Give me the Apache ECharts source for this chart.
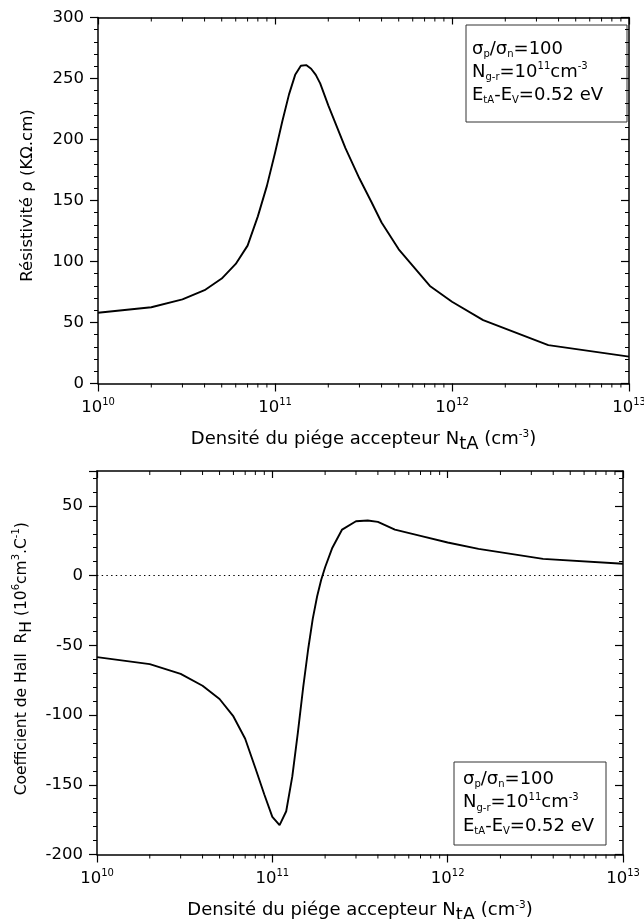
<!DOCTYPE html>
<html>
<head>
<meta charset="utf-8">
<script src="https://cdn.jsdelivr.net/npm/echarts@6/dist/echarts.min.js"></script>
<style>html,body{margin:0;padding:0;background:#fff}#c{width:644px;height:919px}</style>
</head>
<body>
<div id="c"></div>
<script>
// ---- data ----
const xTop = [1e10,2e10,3e10,4e10,5e10,6e10,7e10,8e10,9e10,1e11,1.1e11,1.2e11,1.3e11,1.4e11,1.5e11,1.6e11,1.7e11,1.8e11,2e11,2.5e11,3e11,3.5e11,4e11,5e11,7.5e11,1e12,1.5e12,3.5e12,1e13];
const yTop = [58,62.5,69,76.5,86,98,113,137,162,189,215,237,253,260.5,261,258,253,246,228,193,168,149,132,110,80,67,52,31.5,22];
const xBot = [1e10,2e10,3e10,4e10,5e10,6e10,7e10,8e10,9e10,1e11,1.1e11,1.2e11,1.3e11,1.4e11,1.5e11,1.6e11,1.7e11,1.8e11,1.9e11,2e11,2.2e11,2.5e11,3e11,3.5e11,4e11,5e11,7e11,1e12,1.5e12,3.5e12,1e13];
const yBot = [-58.5,-63.5,-70.5,-79,-88.5,-101,-117,-138,-157,-173,-179,-169,-144,-112,-80,-53,-31,-15,-3,6,20,33,39,39.5,38.5,33,28.5,23.7,19.2,12,8.5];
const minorTicks = [2e10,3e10,4e10,5e10,6e10,7e10,8e10,9e10,2e11,3e11,4e11,5e11,6e11,7e11,8e11,9e11,2e12,3e12,4e12,5e12,6e12,7e12,8e12,9e12];
const xRange = [1e10, 1e13];
const yTopRange = [0, 300, 50];
const yBotRange = [-200, 75, 50];

const FONT = 'DejaVu Sans, sans-serif';
const chart = echarts.init(document.getElementById('c'), null, {renderer: 'canvas'});

const supRich = {
  b: {fontSize: 16.5, fontFamily: FONT, color: '#000'},
  s: {fontSize: 10, fontFamily: FONT, color: '#000', padding: [0, 0, 10, 0]}
};
function logLabel(v) {
  return '{b|10}{s|' + Math.round(Math.log10(v)) + '}';
}
const axisLineStyle = {color: '#000', width: 1.5};

function xAxes(grid, nameText) {
  return [
    {
      gridIndex: grid, type: 'log', logBase: 10, min: xRange[0], max: xRange[1], position: 'bottom',
      axisLine: {onZero: false, lineStyle: axisLineStyle}, axisTick: {length: 8, lineStyle: {color: '#000', width: 1.2}},
      axisLabel: {formatter: logLabel, rich: supRich, margin: 14, color: '#000'},
      splitLine: {show: false},
      name: nameText, nameLocation: 'middle', nameGap: 42,
      nameTextStyle: {
        fontFamily: FONT, fontSize: 18, color: '#000',
        rich: {
          t: {fontSize: 18, fontFamily: FONT, color: '#000'},
          sub: {fontSize: 18, fontFamily: FONT, color: '#000', padding: [10, 0, 0, 0]},
          sup: {fontSize: 10.5, fontFamily: FONT, color: '#000', padding: [0, 0, 10, 0]}
        }
      }
    },
    {
      gridIndex: grid, type: 'log', logBase: 10, min: xRange[0], max: xRange[1], position: 'top',
      axisLine: {onZero: false, lineStyle: axisLineStyle}, axisTick: {inside: true, length: 7, lineStyle: {color: '#000', width: 1.2}},
      axisLabel: {show: false}, splitLine: {show: false}
    }
  ];
}
function yAxes(grid, range, nameText, gap, rich, pad) {
  return [
    {
      gridIndex: grid, type: 'value', min: range[0], max: range[1], interval: range[2], position: 'left',
      axisLine: {onZero: false, lineStyle: axisLineStyle}, axisTick: {length: 8, lineStyle: {color: '#000', width: 1.2}},
      minorTick: {show: true, splitNumber: 5, length: 4, lineStyle: {color: '#000', width: 1}},
      axisLabel: {fontFamily: FONT, fontSize: 16.5, color: '#000', margin: 14, showMaxLabel: range[1] % range[2] === 0},
      splitLine: {show: false},
      name: nameText, nameLocation: 'middle', nameGap: gap, nameRotate: 90,
      nameTextStyle: {fontFamily: FONT, color: '#000', rich: rich, padding: pad}
    },
    {
      gridIndex: grid, type: 'value', min: range[0], max: range[1], interval: range[2], position: 'right',
      axisLine: {onZero: false, lineStyle: axisLineStyle}, axisTick: {inside: true, length: 8, lineStyle: {color: '#000', width: 1.2}},
      minorTick: {show: true, splitNumber: 5, length: 4, lineStyle: {color: '#000', width: 1}},
      axisLabel: {show: false}, splitLine: {show: false}
    }
  ];
}

function minorRender(params, api) {
  const cs = params.coordSys;
  const x = api.coord([api.value(0), api.value(1)])[0];
  const yb = cs.y + cs.height, yt = cs.y;
  return {
    type: 'group',
    children: [
      {type: 'line', shape: {x1: x, y1: yb, x2: x, y2: yb + 4}, style: {stroke: '#000', lineWidth: 1}},
      {type: 'line', shape: {x1: x, y1: yt, x2: x, y2: yt + 4}, style: {stroke: '#000', lineWidth: 1}}
    ]
  };
}

function nameRich(fs) {
  return {
    t: {fontSize: fs, fontFamily: FONT, color: '#000'},
    sub: {fontSize: fs, fontFamily: FONT, color: '#000', padding: [10, 0, 0, 0]},
    sup: {fontSize: 10, fontFamily: FONT, color: '#000', padding: [0, 0, 10, 0]}
  };
}

const xName = '{t|Densité du piége accepteur N}{sub|tA}{t| (cm}{sup|-3}{t|)}';

const legendRich = {
  n: {fontSize: 18, fontFamily: FONT, color: '#000'},
  sub: {fontSize: 10, fontFamily: FONT, color: '#000', padding: [11, 0, 0, 0]},
  sup: {fontSize: 10, fontFamily: FONT, color: '#000', padding: [0, 0, 11, 0]}
};
const legendLines = [
  '{n|σ}{sub|p}{n|/σ}{sub|n}{n|=100}',
  '{n|N}{sub|g-r}{n|=10}{sup|11}{n|cm}{sup|-3}',
  '{n|E}{sub|tA}{n|-E}{sub|V}{n|=0.52 eV}'
];
function legendBox(x, y, w, h, tx, ty, lh) {
  const children = [
    {type: 'rect', shape: {x: x, y: y, width: w, height: h}, style: {fill: '#fff', stroke: '#333', lineWidth: 1}}
  ];
  legendLines.forEach(function (s, i) {
    children.push({type: 'text', x: tx, y: ty + i * lh, style: {text: s, rich: legendRich, verticalAlign: 'middle', align: 'left'}});
  });
  return {type: 'group', children: children};
}

const option = {
  animation: false,
  backgroundColor: '#fff',
  grid: [
    {left: 98, top: 17.5, width: 531, height: 366, outerBoundsMode: 'none', containLabel: false},
    {left: 97, top: 471, width: 526, height: 383.5, outerBoundsMode: 'none', containLabel: false}
  ],
  xAxis: xAxes(0, xName).concat(xAxes(1, xName)),
  yAxis: yAxes(0, yTopRange, '{t|Résistivité ρ (KΩ.cm)}', 62, nameRich(16.5), [0, 0, 0, 10])
    .concat(yAxes(1, yBotRange, '{t|Coefficient de Hall  R}{sub|H}{t| (10}{sup|6}{t|cm}{sup|3}{t|.C}{sup|-1}{t|)}', 62, nameRich(15.5), [0, 0, 0, 8])),
  series: [
    {
      type: 'line', xAxisIndex: 0, yAxisIndex: 0, showSymbol: false, smooth: false,
      lineStyle: {color: '#000', width: 1.9},
      data: xTop.map(function (x, i) { return [x, yTop[i]]; })
    },
    {
      type: 'line', xAxisIndex: 2, yAxisIndex: 2, showSymbol: false, smooth: false,
      lineStyle: {color: '#000', width: 1.9},
      data: xBot.map(function (x, i) { return [x, yBot[i]]; }),
      markLine: {
        silent: true, symbol: ['none', 'none'], label: {show: false},
        lineStyle: {color: '#000', width: 1.2, type: [1.4, 3.3]},
        data: [{yAxis: 0}]
      }
    },
    {
      type: 'custom', xAxisIndex: 0, yAxisIndex: 0, renderItem: minorRender, silent: true, clip: false,
      data: minorTicks.map(function (v) { return [v, 100]; })
    },
    {
      type: 'custom', xAxisIndex: 2, yAxisIndex: 2, renderItem: minorRender, silent: true, clip: false,
      data: minorTicks.map(function (v) { return [v, 0]; })
    }
  ],
  graphic: [
    legendBox(466, 25, 161, 97, 472, 49, 23),
    legendBox(454, 762, 152, 83, 463, 779, 23.5)
  ]
};
chart.setOption(option);
</script>
</body>
</html>
